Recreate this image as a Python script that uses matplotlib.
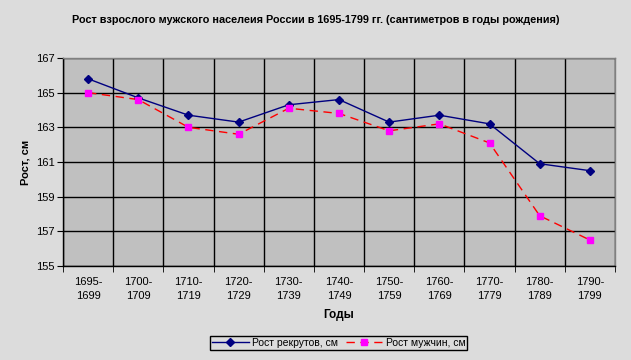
import matplotlib
matplotlib.use("Agg")
import matplotlib.pyplot as plt
import numpy as np

plt.rcParams['font.family'] = ['Liberation Sans', 'DejaVu Sans']

categories = ["1695-\n1699", "1700-\n1709", "1710-\n1719", "1720-\n1729", "1730-\n1739",
              "1740-\n1749", "1750-\n1759", "1760-\n1769", "1770-\n1779", "1780-\n1789",
              "1790-\n1799"]
recruits = [165.8, 164.7, 163.7, 163.3, 164.3, 164.6, 163.3, 163.7, 163.2, 160.9, 160.5]
men = [165.0, 164.6, 163.0, 162.6, 164.1, 163.8, 162.8, 163.2, 162.1, 157.9, 156.5]
yticks = [155, 157, 159, 161, 163, 165, 167]

title = "Рост взрослого мужского населеия России в 1695-1799 гг. (сантиметров в годы рождения)"

fig = plt.figure(figsize=(6.31, 3.6), dpi=100)
fig.patch.set_facecolor('#dcdcdc')
ax = fig.add_axes([0.0998, 0.261, 0.8748, 0.578])
ax.set_facecolor('#c0c0c0')

x = np.arange(len(categories))
ax.plot(x, recruits, color='#000080', lw=1, marker='D', ms=4, mfc='#000080', mec='#000080',
        label='Рост рекрутов, см')
ax.plot(x, men, color='#ff0000', lw=1, ls=(0, (6, 4)), marker='s', ms=5, mfc='#ff00ff',
        mec='#ff00ff', label='Рост мужчин, см')

ax.set_xlim(-0.5, len(categories) - 0.5)
ax.set_ylim(155, 167)
ax.set_yticks(yticks)
ax.set_yticklabels([str(v) for v in yticks], fontsize=8)
ax.set_xticks(x)
ax.set_xticklabels(categories, fontsize=8, linespacing=1.45)
ax.tick_params(axis='x', length=0, pad=8)
ax.set_xticks(np.arange(-0.5, len(categories) - 0.4, 1), minor=True)
ax.tick_params(axis='x', which='minor', length=4, color='black')
ax.tick_params(axis='y', length=4, color='black', pad=2)
ax.grid(True, which='major', axis='y', color='black', lw=1)
ax.grid(True, which='minor', axis='x', color='black', lw=1)
for s in ax.spines.values():
    s.set_color('black')
    s.set_linewidth(1)
ax.spines['top'].set_color('#808080')
ax.spines['right'].set_color('#808080')

ax.set_ylabel('Рост, см', fontsize=8, fontweight='bold', labelpad=4)
ax.set_xlabel('Годы', fontsize=8.5, fontweight='bold', labelpad=6)
fig.text(0.5, 0.944, title, ha='center', va='center', fontsize=7.8, fontweight='bold')

leg = ax.legend(loc='center', bbox_to_anchor=(0.4995, -0.37), ncol=2, fontsize=7.5,
                frameon=True, fancybox=False, framealpha=1, edgecolor='black',
                facecolor='#dcdcdc', handlelength=3.5, columnspacing=0.8,
                handletextpad=0.3, borderpad=0.2, borderaxespad=0)
leg.get_frame().set_linewidth(1)

fig.savefig('out.png', dpi=100, facecolor=fig.get_facecolor())
